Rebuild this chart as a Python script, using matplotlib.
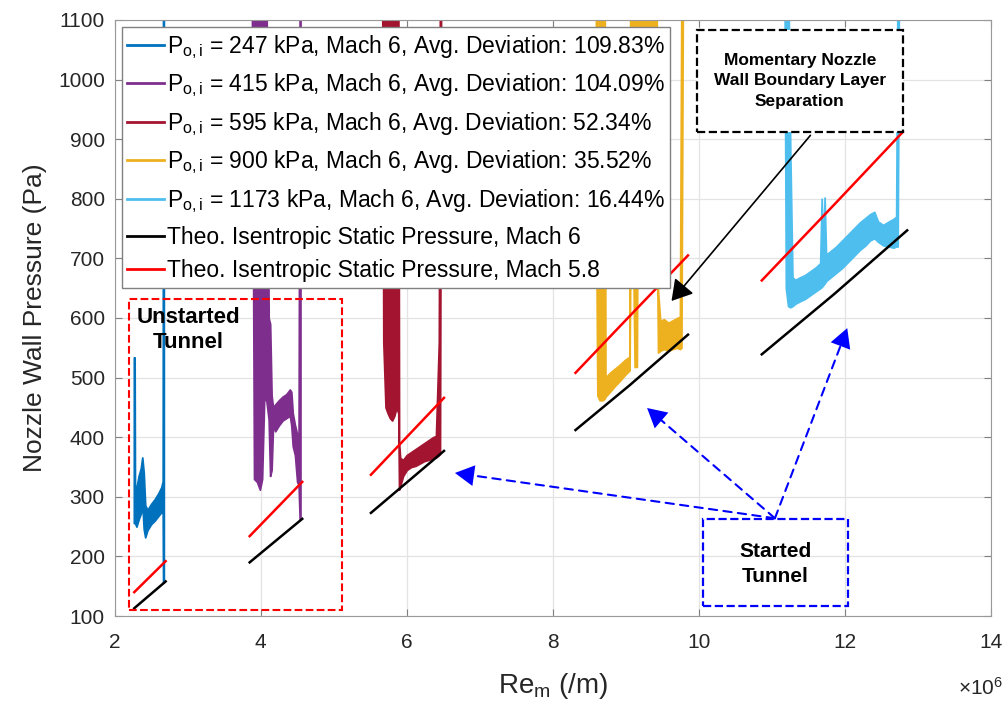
import matplotlib
matplotlib.use("Agg")
import matplotlib.pyplot as plt
from matplotlib.patches import Rectangle

plt.rcParams["font.family"] = ["Liberation Sans", "DejaVu Sans"]
plt.rcParams["mathtext.fontset"] = "custom"
plt.rcParams["mathtext.rm"] = "Liberation Sans"
plt.rcParams["mathtext.it"] = "Liberation Sans"

# Reynolds number per metre, in units of 1e6; pressure in Pa
# each run is read as a band: lower and upper edge of the noisy trace
re_247 = [2.265, 2.275, 2.28, 2.30, 2.33, 2.36, 2.38, 2.40, 2.42, 2.45, 2.50, 2.55, 2.60, 2.64, 2.660, 2.665, 2.675]
lo_247 = [256, 256, 256, 250, 262, 272, 290, 246, 232, 244, 254, 260, 268, 274, 276, 156, 156]
hi_247 = [534, 534, 305, 315, 335, 348, 366, 340, 286, 278, 288, 296, 306, 316, 326, 1150, 1150]

re_415 = [3.88, 3.91, 3.95, 3.99, 4.02, 4.05, 4.08, 4.11, 4.13, 4.15, 4.17, 4.20, 4.25, 4.30, 4.35, 4.40, 4.42, 4.44, 4.47, 4.50, 4.52, 4.535, 4.545]
lo_415 = [1150, 330, 325, 312, 330, 470, 460, 430, 335, 345, 420, 410, 420, 428, 432, 436, 420, 385, 370, 325, 320, 262, 262]
hi_415 = [1150, 1150, 1150, 1150, 1150, 1150, 1150, 600, 590, 470, 450, 455, 462, 468, 472, 480, 476, 440, 420, 405, 390, 1150, 1150]

re_595 = [5.665, 5.68, 5.71, 5.74, 5.77, 5.80, 5.83, 5.86, 5.885, 5.895, 5.91, 5.95, 6.00, 6.06, 6.12, 6.18, 6.24, 6.30, 6.36, 6.40, 6.42, 6.44, 6.455, 6.47]
lo_595 = [1150, 560, 450, 440, 432, 428, 436, 450, 440, 312, 318, 335, 345, 350, 352, 356, 360, 362, 365, 366, 368, 370, 372, 1150]
hi_595 = [1150, 1150, 1150, 1150, 1150, 1150, 1150, 1150, 1150, 390, 365, 362, 370, 375, 380, 385, 390, 395, 400, 402, 480, 560, 1150, 1150]

re_900 = [8.59, 8.61, 8.64, 8.68, 8.71, 8.72, 8.78, 8.85, 8.92, 8.99, 9.05, 9.06, 9.07, 9.10, 9.12, 9.15, 9.16, 9.42, 9.44, 9.47, 9.52, 9.58, 9.64, 9.70, 9.74, 9.76, 9.78]
lo_900 = [800, 470, 462, 462, 465, 468, 476, 486, 495, 505, 512, 700, 700, 700, 518, 518, 800, 800, 542, 545, 548, 545, 548, 550, 548, 550, 1150]
hi_900 = [1150, 1150, 1150, 1150, 1150, 500, 508, 515, 522, 530, 535, 1150, 1150, 1150, 1150, 1150, 1150, 1150, 645, 595, 598, 592, 596, 600, 602, 1150, 1150]

re_1173 = [11.17, 11.19, 11.22, 11.25, 11.28, 11.32, 11.38, 11.45, 11.52, 11.60, 11.66, 11.68, 11.70, 11.72, 11.74, 11.76, 11.80, 11.88, 11.96, 12.04, 12.12, 12.20, 12.28, 12.34, 12.40, 12.45, 12.52, 12.60, 12.66, 12.70, 12.72, 12.74]
lo_1173 = [1200, 650, 620, 618, 620, 624, 628, 632, 638, 645, 650, 652, 655, 658, 662, 664, 668, 676, 684, 694, 704, 714, 722, 730, 734, 728, 722, 720, 718, 720, 720, 1200]
hi_1173 = [1200, 1200, 1200, 880, 668, 664, 668, 672, 678, 685, 692, 800, 700, 802, 705, 708, 712, 720, 730, 740, 750, 760, 768, 774, 778, 762, 756, 762, 766, 770, 1200, 1200]

# theoretical isentropic static pressure, one segment per run
theo_re = [[2.27, 2.70], [3.85, 4.57], [5.51, 6.51], [8.31, 9.05, 9.85], [10.86, 11.85, 12.85]]
theo_m6 = [[113, 158], [190, 263], [273, 377], [412, 487, 572], [539, 640, 747]]
theo_m58 = [[140, 192], [234, 325], [337, 466], [508, 603, 705], [663, 790, 912]]
theo_re58_end = [2.70, 4.57, 6.51, 9.85, 12.79]

runs = [
    (re_247, lo_247, hi_247, "#0072BD", "247 kPa", "109.83%"),
    (re_415, lo_415, hi_415, "#7E2F8E", "415 kPa", "104.09%"),
    (re_595, lo_595, hi_595, "#A2142F", "595 kPa", "52.34%"),
    (re_900, lo_900, hi_900, "#EDB120", "900 kPa", "35.52%"),
    (re_1173, lo_1173, hi_1173, "#4DBEEE", "1173 kPa", "16.44%"),
]

fig = plt.figure(figsize=(10.08, 7.11), dpi=100)
ax = fig.add_axes([0.1136, 0.1336, 0.8697, 0.8383])

handles = []
for re, lo, hi, color, p0, dev in runs:
    ax.fill_between(re, lo, hi, color=color, linewidth=1.3, zorder=2)
    h, = ax.plot([], [], color=color, linewidth=2,
                 label=r"P$_{\mathregular{o,i}}$ = " + p0 + ", Mach 6, Avg. Deviation: " + dev)
    handles.append(h)

for i in range(len(theo_re)):
    ax.plot(theo_re[i], theo_m6[i], color="black", linewidth=1.8, zorder=3)
    re58 = theo_re[i][:-1] + [theo_re58_end[i]]
    ax.plot(re58, theo_m58[i], color="red", linewidth=1.8, zorder=3)

h, = ax.plot([], [], color="black", linewidth=2, label="Theo. Isentropic Static Pressure, Mach 6")
handles.append(h)
h, = ax.plot([], [], color="red", linewidth=2, label="Theo. Isentropic Static Pressure, Mach 5.8")
handles.append(h)

ax.set_xlim(2, 14)
ax.set_ylim(100, 1100)
ax.set_xticks(range(2, 15, 2))
ax.set_yticks(range(100, 1101, 100))
ax.tick_params(direction="in", labelsize=15, color="#808080", labelcolor="#262626", length=5,
               top=True, right=True, labeltop=False, labelright=False)
ax.tick_params(axis="x", pad=12)
ax.tick_params(axis="y", pad=7)
for s in ax.spines.values():
    s.set_color("#999999")
ax.grid(True, color="#e3e3e3", linewidth=0.9)
ax.set_axisbelow(True)
ax.set_ylabel("Nozzle Wall Pressure (Pa)", fontsize=19, color="#262626", labelpad=8)
ax.set_xlabel(r"Re$_{\mathregular{m}}$ (/m)", fontsize=20, color="#262626", labelpad=14)
ax.text(1.014, -0.12, r"$\times$10$^{6}$", transform=ax.transAxes, ha="right", va="center",
        fontsize=15, color="#262626")

leg = ax.legend(handles=handles, loc="upper left", bbox_to_anchor=(0.008, 0.988), fontsize=16.5,
                frameon=True, fancybox=False, framealpha=1, edgecolor="#808080",
                handlelength=1.6, handletextpad=0.12, borderpad=0.25, labelspacing=0.47,
                borderaxespad=0)
leg.set_zorder(6)
leg.get_frame().set_linewidth(1)

# annotation boxes
ax.add_patch(Rectangle((9.97, 912), 2.82, 171, fill=True, facecolor="white", edgecolor="black",
                       linestyle="--", linewidth=1.6, zorder=5))
ax.text(11.38, 998, "Momentary Nozzle\nWall Boundary Layer\nSeparation", ha="center", va="center",
        fontsize=12.5, fontweight="bold", linespacing=1.45, zorder=6)
ax.add_patch(Rectangle((2.20, 110), 2.91, 522, fill=False, edgecolor="red",
                       linestyle="--", linewidth=1.5, zorder=4))
ax.text(3.01, 580, "Unstarted\nTunnel", ha="center", va="center", fontsize=16,
        fontweight="bold", linespacing=1.25, zorder=6)
ax.add_patch(Rectangle((10.06, 117), 1.98, 146, fill=False, edgecolor="blue",
                       linestyle="--", linewidth=1.6, zorder=4))
ax.text(11.05, 188, "Started\nTunnel", ha="center", va="center", fontsize=15,
        fontweight="bold", linespacing=1.4, zorder=6)

ax.annotate("", xy=(9.60, 625), xytext=(11.55, 910),
            arrowprops=dict(arrowstyle="-|>,head_length=0.5,head_width=0.3", color="black", lw=1.2,
                            mutation_scale=25), zorder=6)
for tip in [(6.66, 340), (9.29, 449), (12.03, 583)]:
    ax.annotate("", xy=tip, xytext=(11.04, 264),
                arrowprops=dict(arrowstyle="-", color="blue", lw=1.5, linestyle=(0, (4, 3)),
                                shrinkA=0, shrinkB=8), zorder=6)
    ax.annotate("", xy=tip, xytext=(11.04, 264),
                arrowprops=dict(arrowstyle="-|>,head_length=0.55,head_width=0.3", color="blue", lw=0,
                                mutation_scale=25, shrinkA=0, shrinkB=0), zorder=6)

plt.savefig("out.png", dpi=100)
plt.close()
